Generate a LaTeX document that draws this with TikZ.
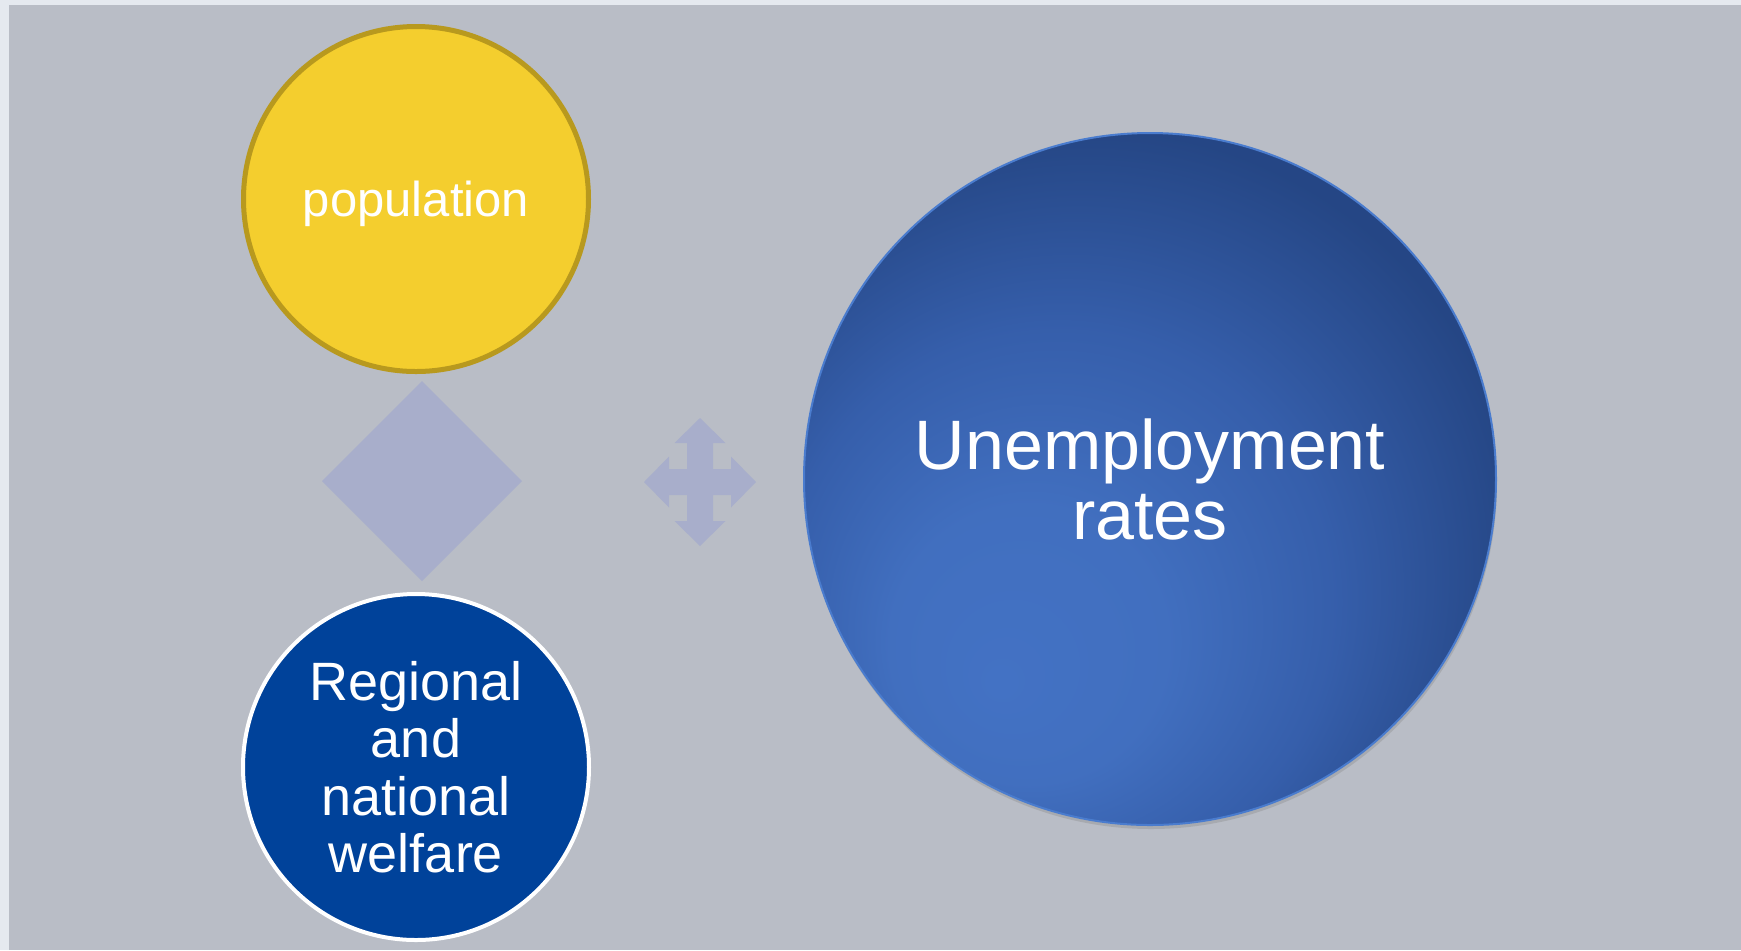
\documentclass[tikz,border=0pt]{standalone}
\usepackage{fontspec}
\setmainfont{Liberation Sans}
\usetikzlibrary{shadows}

\definecolor{paper}{RGB}{229,233,239}
\definecolor{slidegrey}{RGB}{185,189,198}
\definecolor{sunyellow}{RGB}{244,206,46}
\definecolor{goldline}{RGB}{184,153,30}
\definecolor{navyblue}{RGB}{0,66,154}
\definecolor{lilac}{RGB}{168,174,203}
\definecolor{rimblue}{RGB}{74,124,206}

\pgfdeclareradialshading{unempshade}{\pgfpoint{-11bp}{-15bp}}{%
	rgb(0bp)=(0.263,0.447,0.769);
	rgb(10bp)=(0.255,0.435,0.75);
	rgb(20bp)=(0.21,0.37,0.67);
	rgb(31bp)=(0.145,0.275,0.52);
	rgb(50bp)=(0.145,0.275,0.52)}

\newcommand{\moveicon}[2]{

\begin{scope}[shift={#1}]
	\fill[lilac] (0,-64) -- (25.5,-39) -- (#2,-39) -- (#2,-#2) -- (31,-#2) -- (31,-25.5) -- (56,0) -- (31,25.5) -- (31,#2) -- (#2,#2) -- (#2,39) -- (25.5,39) -- (0,64) -- (-25.5,39) -- (-#2,39) -- (-#2,#2) -- (-31,#2) -- (-31,25.5) -- (-56,0) -- (-31,-25.5) -- (-31,-#2) -- (-#2,-#2) -- (-#2,-39) -- (-25.5,-39) -- cycle;
\end{scope}

}

\tikzset{
	bubble/.style={circle, inner sep=0pt, text=white, align=center}
}

\begin{document}
\begin{tikzpicture}[x=0.5pt,y=-0.5pt]

	\useasboundingbox (0,0) rectangle (1741,950);
	\fill[paper] (0,0) rectangle (1741,950);
	\fill[slidegrey] (9,5) rectangle (1741,950);

	\fill[lilac] (422,381) -- (522,481) -- (422,581) -- (322,481) -- cycle;
	\moveicon{(700,482)}{13}

	\node[bubble, fill=sunyellow, draw=goldline, line width=2.5pt, minimum size=172.5pt, text depth=0pt,
		font=\fontsize{24.5}{28}\selectfont] (population) at (416,199) {population};
	\node[bubble, fill=navyblue, draw=white, line width=2pt, minimum size=173pt,
		font=\fontsize{27}{28.75}\selectfont] (welfare) at (416,767) {Regional\\and\\national\\welfare};
	\node[bubble, shade, shading=unempshade, draw=rimblue, line width=1pt, minimum size=346pt,
		drop shadow={shadow xshift=0.5pt, shadow yshift=-2pt, opacity=0.3},
		font=\fontsize{35}{35}\selectfont] (unemployment) at (1150,479) {Unemployment\\rates};

\end{tikzpicture}
\end{document}
